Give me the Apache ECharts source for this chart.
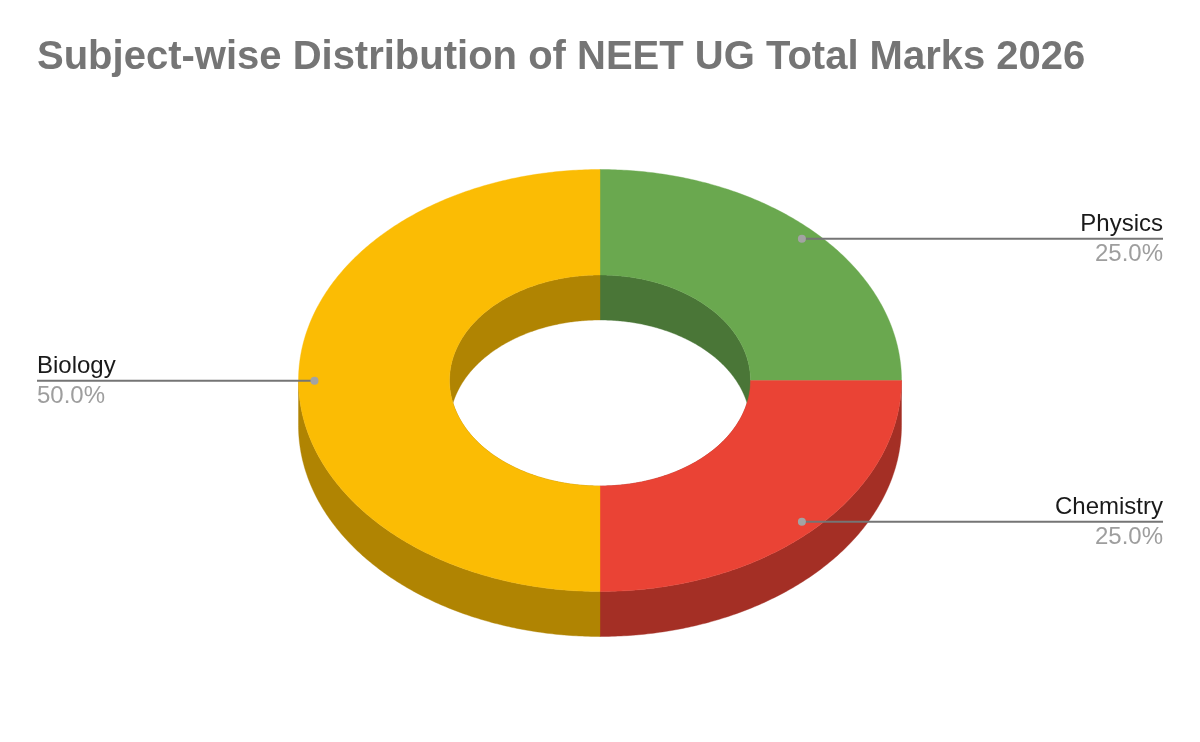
<!DOCTYPE html>
<html><head><meta charset="utf-8">
<style>html,body{margin:0;padding:0;background:#fff}#c{width:1200px;height:742px}</style>
<script src="https://cdn.jsdelivr.net/npm/echarts@6/dist/echarts.min.js"></script>
</head><body><div id="c"></div>
<script>
const titleText = 'Subject-wise Distribution of NEET UG Total Marks 2026';
const categories = ['Physics', 'Chemistry', 'Biology'];
const shares = [25, 25, 50];
const topColors = ['#6aa84f', '#ea4335', '#fbbc04'];
const wallColors = ['#4a7637', '#a42f25', '#b08402'];

const CX = 600, CY = 380.5, RX = 301.5, RY = 211, IRX = 150.5, IRY = 105.5, DEPTH = 45;
const DOT = 0.947, LINE_L = 37, LINE_R = 1163;
const total = shares.reduce((a, b) => a + b, 0);

function pt(t, rx, ry, dy) { return [CX + rx * Math.sin(t), CY + dy - ry * Math.cos(t)]; }
function arc(t0, t1, rx, ry, dy) {
  const n = Math.max(2, Math.ceil(Math.abs(t1 - t0) / 0.01)), out = [];
  for (let i = 0; i <= n; i++) out.push(pt(t0 + (t1 - t0) * i / n, rx, ry, dy));
  return out;
}
function poly(points, fill, z2) {
  return { type: 'polygon', z2, shape: { points }, style: { fill, stroke: fill, lineWidth: 0.4 } };
}
function renderItem(params, api) {
  const i = params.dataIndex, v = api.value(1);
  let before = 0;
  for (let k = 0; k < i; k++) before += shares[k];
  const t0 = before / total * 2 * Math.PI, t1 = (before + v) / total * 2 * Math.PI;
  const kids = [];
  // inner wall seen through the hole
  kids.push(poly(arc(t0, t1, IRX, IRY, 0).concat(arc(t1, t0, IRX, IRY, DEPTH)), wallColors[i], i === 1 ? 1 : 2));
  // outer wall, only the front half faces the viewer
  const a = Math.max(t0, Math.PI / 2), b = Math.min(t1, Math.PI * 1.5);
  if (b > a) kids.push(poly(arc(a, b, RX, RY, 0).concat(arc(b, a, RX, RY, DEPTH)), wallColors[i], 3));
  // top face
  kids.push(poly(arc(t0, t1, RX, RY, 0).concat(arc(t1, t0, IRX, IRY, 0)), topColors[i], 4));
  // leader and labels
  const mid = (t0 + t1) / 2, p = pt(mid, RX * DOT, RY * DOT, 0), onRight = Math.sin(mid) >= 0;
  const y = Math.round(p[1]);
  kids.push({ type: 'line', z2: 5, shape: { x1: p[0], y1: y - 0.3, x2: onRight ? LINE_R : LINE_L, y2: y - 0.3 },
    style: { stroke: '#757575', lineWidth: 2 } });
  kids.push({ type: 'circle', z2: 6, shape: { cx: p[0], cy: y - 0.3, r: 4 }, style: { fill: '#a3a3a3' } });
  const x = onRight ? LINE_R : LINE_L, align = onRight ? 'right' : 'left';
  kids.push({ type: 'text', z2: 6, style: { x, y: y - 3, text: categories[i], align, verticalAlign: 'bottom',
    font: '24px "Liberation Sans", Arial, sans-serif', fill: '#1a1a1a' } });
  kids.push({ type: 'text', z2: 6, style: { x, y: y + 3, text: (v / total * 100).toFixed(1) + '%', align, verticalAlign: 'top',
    font: '24px "Liberation Sans", Arial, sans-serif', fill: '#9e9e9e' } });
  return { type: 'group', children: kids };
}
const chart = echarts.init(document.getElementById('c'), null, { renderer: 'canvas' });
chart.setOption({
  animation: false,
  backgroundColor: '#ffffff',
  title: { text: titleText, left: 37, top: 38, padding: 0,
    textStyle: { fontFamily: '"Liberation Sans", Arial, sans-serif', fontWeight: 'bold', fontSize: 40, color: '#757575' } },
  tooltip: { show: false },
  series: [{ type: 'custom', coordinateSystem: 'none', renderItem,
    data: categories.map((c, i) => [i, shares[i]]) }]
});
</script></body></html>
